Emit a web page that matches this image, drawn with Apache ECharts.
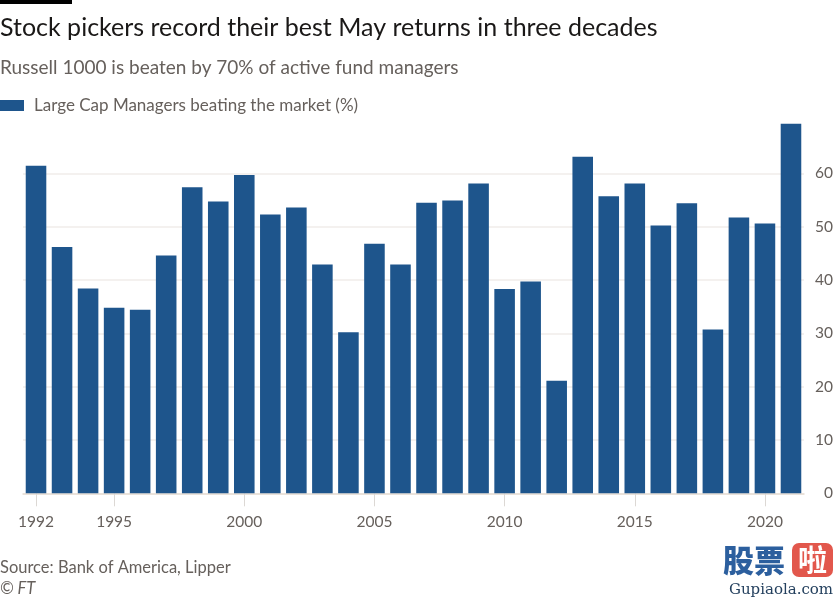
<!DOCTYPE html>
<html>
<head>
<meta charset="utf-8">
<script src="https://cdn.jsdelivr.net/npm/echarts@6/dist/echarts.min.js"></script>
<style>
html,body{margin:0;padding:0;background:#fff;}
#chart{width:839px;height:599px;}
</style>
</head>
<body>
<div id="chart"></div>
<script>
var years = ['1992','1993','1994','1995','1996','1997','1998','1999','2000','2001',
             '2002','2003','2004','2005','2006','2007','2008','2009','2010','2011',
             '2012','2013','2014','2015','2016','2017','2018','2019','2020','2021'];
var beatingPct = [61.4, 46.2, 38.4, 34.8, 34.4, 44.6, 57.4, 54.7, 59.7, 52.3,
                  53.6, 42.9, 30.2, 46.8, 42.9, 54.5, 54.9, 58.1, 38.3, 39.7,
                  21.1, 63.1, 55.7, 58.1, 50.2, 54.4, 30.7, 51.7, 50.6, 69.3];
var labelledYears = ['1992','1995','2000','2005','2010','2015','2020'];
var yTicks = {min: 0, max: 70, step: 10};

var FONT = 'Lato, "Noto Sans", sans-serif';
var GREY = '#66605c';

var chart = echarts.init(document.getElementById('chart'), null, {renderer: 'canvas'});
var isLabelled = function (idx, val) { return labelledYears.indexOf(val) >= 0; };

chart.setOption({
  backgroundColor: '#ffffff',
  animation: false,
  textStyle: {fontFamily: FONT},
  grid: {left: 23, right: 35, top: 120, bottom: 105.7, containLabel: false},
  legend: {
    left: 0, top: 97, padding: 0,
    icon: 'rect', itemWidth: 24, itemHeight: 11,
    data: ['Large Cap Managers beating the market (%)'],
    textStyle: {fontFamily: FONT, fontSize: 17, color: GREY, padding: [0, 0, 0, 5]}
  },
  xAxis: [{
    type: 'category', data: years, boundaryGap: true,
    axisLine: {show: true, lineStyle: {color: '#e6ddd3', width: 1.5}},
    axisTick: {show: true, alignWithLabel: true, length: 9, lineStyle: {color: '#dcd8d4'}},
    axisLabel: {interval: isLabelled, margin: 21, fontFamily: FONT, fontSize: 15.5, color: GREY}
  }, {
    type: 'category', data: years, boundaryGap: true, position: 'bottom',
    axisLine: {show: false},
    axisTick: {show: true, alignWithLabel: true, length: 13, interval: isLabelled, lineStyle: {color: '#dcd8d4'}},
    axisLabel: {show: false}
  }],
  yAxis: {
    type: 'value', position: 'right', min: yTicks.min, max: yTicks.max, interval: yTicks.step,
    axisLine: {show: false}, axisTick: {show: false},
    axisLabel: {showMaxLabel: false, margin: 29, align: 'right', fontFamily: FONT, fontSize: 15.5, color: GREY},
    splitLine: {show: true, showMaxLine: false, lineStyle: {color: '#f0edea', width: 1.5}}
  },
  series: [{
    name: 'Large Cap Managers beating the market (%)',
    type: 'bar', data: beatingPct, xAxisIndex: 0,
    barCategoryGap: '21%',
    itemStyle: {color: '#1e558c'}
  }],
  graphic: [
    {type: 'rect', left: 0, top: 0, shape: {width: 72, height: 4}, style: {fill: '#000'}},
    {type: 'text', x: 0, y: 28, style: {text: 'Stock pickers record their best May returns in three decades',
      font: '400 25px ' + FONT, fill: '#1a1817', textVerticalAlign: 'middle'}},
    {type: 'text', x: 0, y: 68, style: {text: 'Russell 1000 is beaten by 70% of active fund managers',
      font: '400 19px ' + FONT, fill: GREY, textVerticalAlign: 'middle'}},
    {type: 'text', x: 0, y: 568, style: {text: 'Source: Bank of America, Lipper',
      font: '400 16.5px ' + FONT, fill: GREY, textVerticalAlign: 'middle'}},
    {type: 'text', x: 0, y: 589, style: {text: '\u00A9 FT',
      font: 'italic 400 16.5px ' + FONT, fill: GREY, textVerticalAlign: 'middle'}},
    {type: 'text', x: 723, y: 560, style: {text: '股票',
      font: '900 31px "Noto Sans CJK SC"', fill: '#2c5f9e', textVerticalAlign: 'middle'}},
    {type: 'rect', shape: {x: 792, y: 543, width: 41, height: 34, r: 7}, style: {fill: '#e2574c'}},
    {type: 'text', x: 812.5, y: 560, style: {text: '啦',
      font: '700 29px "Noto Sans CJK SC"', fill: '#ffffff', textAlign: 'center', textVerticalAlign: 'middle'}},
    {type: 'text', x: 781, y: 590, style: {text: 'Gupiaola.com',
      font: '400 15px "DejaVu Serif", "Liberation Serif", serif', fill: '#24405e', textAlign: 'center', textVerticalAlign: 'middle'}}
  ]
});
</script>
</body>
</html>
